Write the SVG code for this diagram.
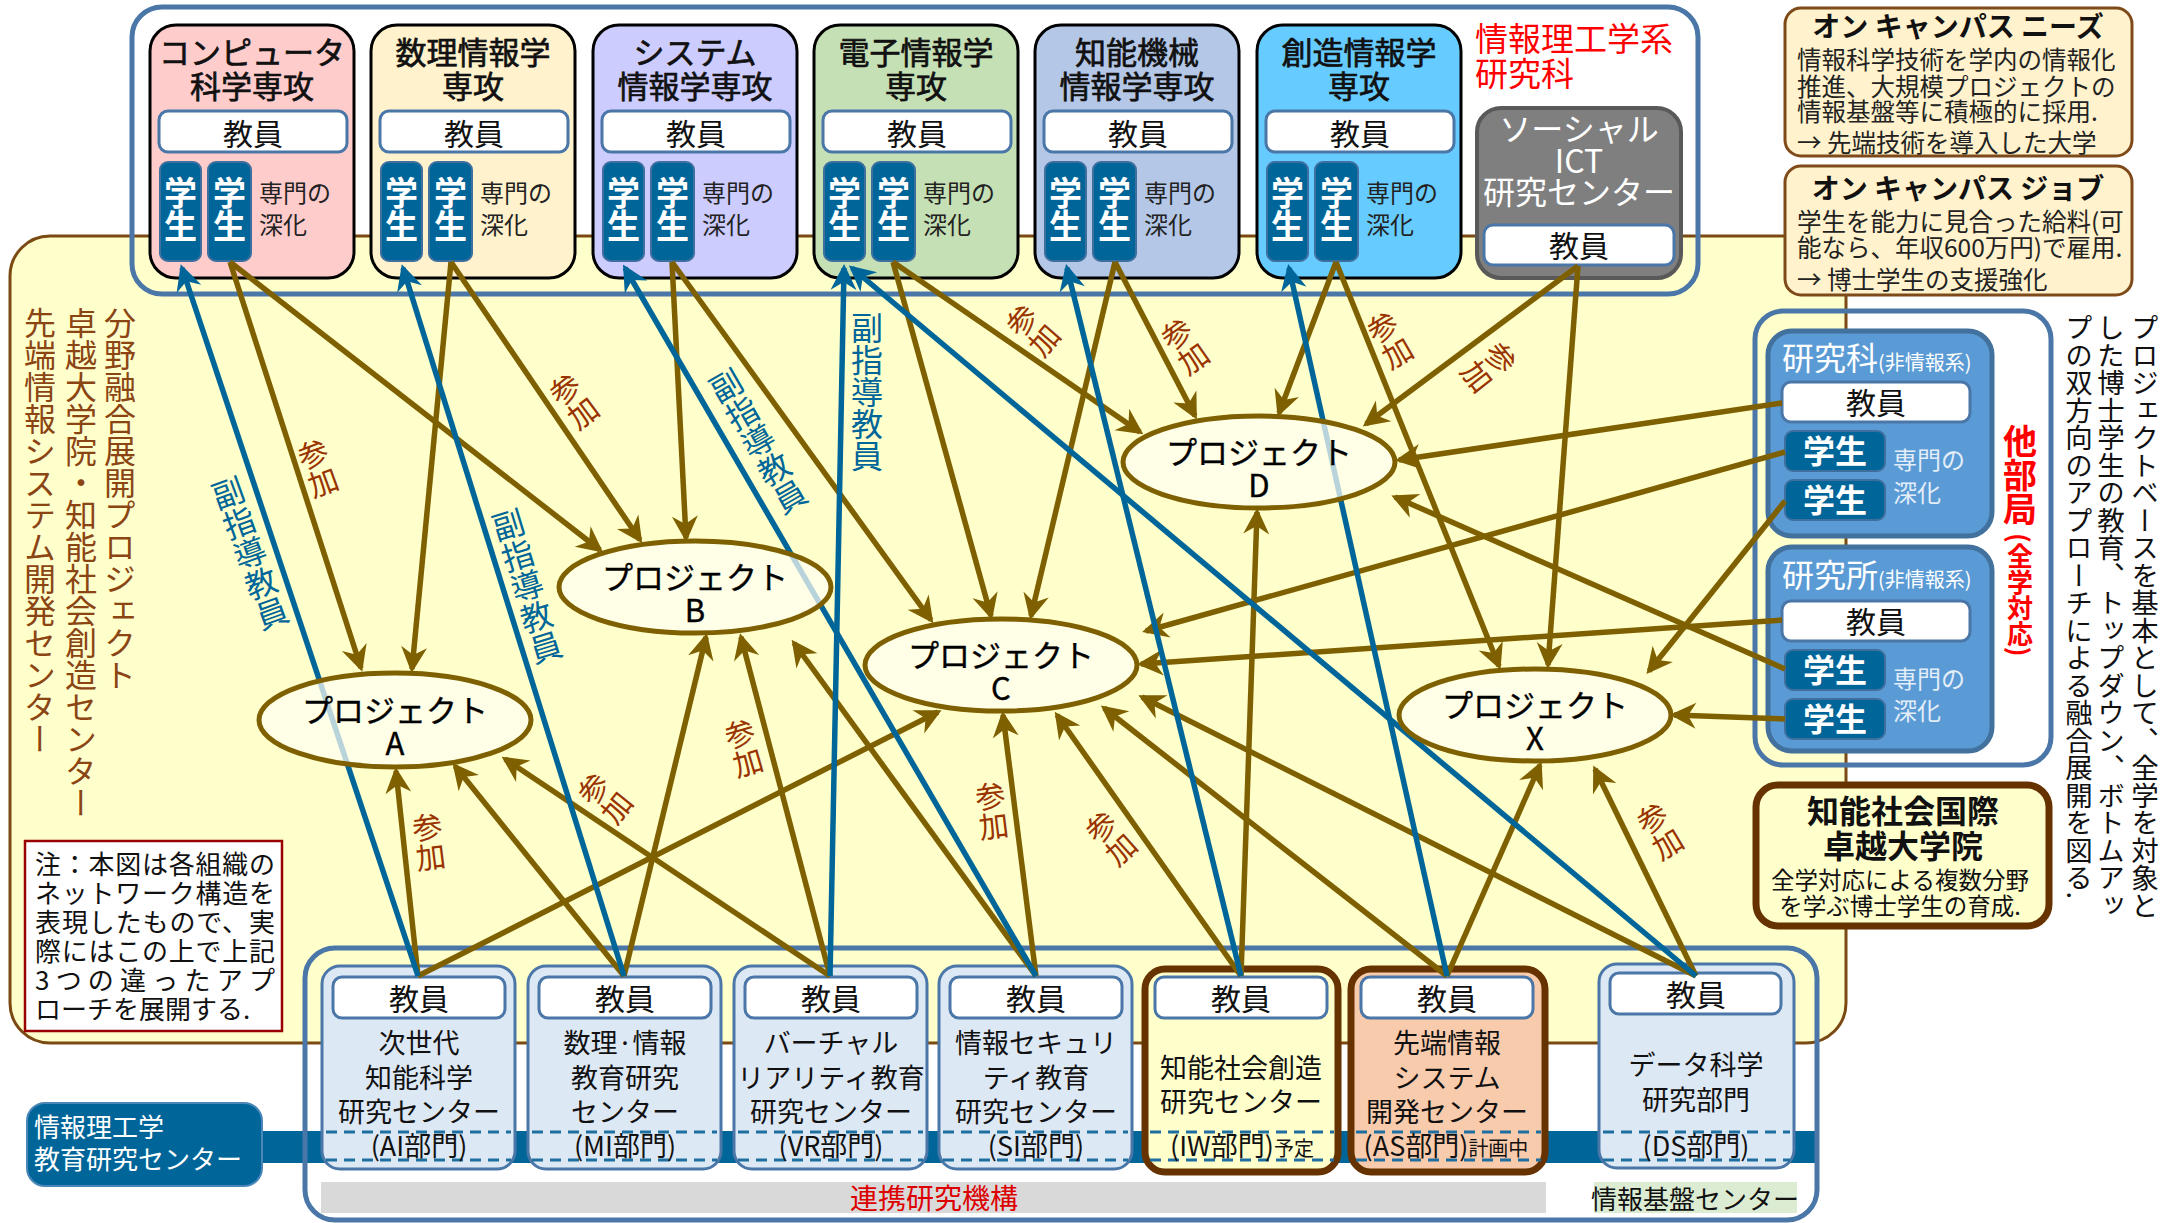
<svg xmlns="http://www.w3.org/2000/svg" width="2172" height="1223" viewBox="0 0 2172 1223">
<defs>
<style>
text{font-family:"Noto Sans CJK JP","Noto Sans",sans-serif;}
.dept{stroke:#000;stroke-width:3}
.kyoin{fill:#fff;stroke:#4a76a8;stroke-width:3}
.kt{font-size:30px;fill:#111;text-anchor:middle}
.title{font-size:31px;fill:#111;text-anchor:middle;stroke:#111;stroke-width:0.7px}
.stu{fill:#006699;stroke:#3f6f9f;stroke-width:2}
.st{font-size:33px;fill:#fff;text-anchor:middle;font-weight:bold}
.sm{font-size:24px;fill:#222}
.br{stroke:#7f6000;stroke-width:5.5;fill:none;marker-end:url(#ab)}
.bl{stroke:#006699;stroke-width:5.5;fill:none;marker-end:url(#au)}
.san{font-size:30px;fill:#993300;writing-mode:vertical-rl;text-anchor:middle}
.fuku{font-size:32px;fill:#006699;writing-mode:vertical-rl;text-anchor:middle}
.vt{writing-mode:vertical-rl}
.proj ellipse{fill:#fffff2;fill-opacity:0.72;stroke:#7f6000;stroke-width:5}
.pt{font-size:31px;fill:#000;text-anchor:middle;stroke:#000;stroke-width:0.4px}
.bbox{fill:#dde8f5;stroke:#4a76a8;stroke-width:3}
.tbox{stroke:#663300;stroke-width:7}
.bt{font-size:27px;fill:#111;text-anchor:middle}
.dash{stroke:#1f6ea0;stroke-width:3;stroke-dasharray:11 7}
.frame{fill:none;stroke:#4a76a8;stroke-width:5}
.rbox{fill:#5b9bd5;stroke:#41719c;stroke-width:5}
.rst{font-size:32px;fill:#fff;text-anchor:middle;font-weight:bold}
.rsm{font-size:24px;fill:#e4eef9}
.oc{fill:#fff2cc;stroke:#7f4a1a;stroke-width:3}
.oct{font-size:28px;font-weight:bold;fill:#111;text-anchor:middle}
.ocb{font-size:24.5px;fill:#222}
.note{font-size:26px;fill:#111}
</style>
<marker id="ab" viewBox="-24 -15 30 30" markerWidth="30" markerHeight="30" refX="0" refY="0" orient="auto" markerUnits="userSpaceOnUse"><path d="M4,0 L-22,-13 L-14,0 L-22,13 Z" fill="#7f6000"/></marker>
<marker id="au" viewBox="-24 -15 30 30" markerWidth="30" markerHeight="30" refX="0" refY="0" orient="auto" markerUnits="userSpaceOnUse"><path d="M4,0 L-22,-13 L-14,0 L-22,13 Z" fill="#006699"/></marker>
</defs>
<rect x="0" y="0" width="2172" height="1223" fill="#fff"/>

<g id="fusion-area">
<rect x="10" y="236" width="1836" height="807" rx="40" fill="#ffffcc" stroke="#7a4a12" stroke-width="3"/>
<text class="vt" x="120" y="307" font-size="32" fill="#8b4513">分野融合展開プロジェクト</text>
<text class="vt" x="81" y="307" font-size="32" fill="#8b4513">卓越大学院・知能社会創造センター</text>
<text class="vt" x="40" y="307" font-size="32" fill="#8b4513">先端情報システム開発センター</text>
</g>

<g id="note">
<rect x="25" y="841" width="257" height="190" fill="#fff" stroke="#990000" stroke-width="2.5"/>
<text class="note" x="35" y="874" textLength="240" lengthAdjust="spacing">注：本図は各組織の</text>
<text class="note" x="35" y="903" textLength="240" lengthAdjust="spacing">ネットワーク構造を</text>
<text class="note" x="35" y="932" textLength="240" lengthAdjust="spacing">表現したもので、実</text>
<text class="note" x="35" y="961" textLength="240" lengthAdjust="spacing">際にはこの上で上記</text>
<text class="note" x="35" y="990" textLength="240" lengthAdjust="spacing">3つの違ったアプ</text>
<text class="note" x="35" y="1019">ローチを展開する.</text>
</g>

<g id="edu-center">
<rect x="262" y="1131" width="1553" height="32" fill="#006699"/>
<rect x="27" y="1103" width="235" height="83" rx="18" fill="#006699" stroke="#4a86b8" stroke-width="2"/>
<text x="34" y="1137" font-size="26" fill="#fff">情報理工学</text>
<text x="34" y="1169" font-size="26" fill="#fff">教育研究センター</text>
</g>

<g id="renkei">
<rect x="321" y="1182" width="1225" height="31" fill="#d9d9d9"/>
<text x="934" y="1209" font-size="28" fill="#dd0000" text-anchor="middle">連携研究機構</text>
</g>
<g id="kiban">
<rect x="1594" y="1182" width="203" height="31" fill="#dcecd2"/>
<text x="1695" y="1209" font-size="26" fill="#111" text-anchor="middle">情報基盤センター</text>
</g>

<g id="grad-school-frame">
<rect class="frame" x="132" y="7" width="1566" height="287" rx="30"/>
<text x="1475" y="51" font-size="33" fill="#ff0000">情報理工学系</text>
<text x="1475" y="86" font-size="33" fill="#ff0000">研究科</text>
</g>
<rect id="bottom-frame" class="frame" x="305" y="948" width="1512" height="272" rx="30"/>

<g id="dept-cs">
<rect x="150" y="25" width="204" height="253" rx="26" class="dept" fill="#ffcccc"/>
<text class="title" x="252" y="64">コンピュータ</text>
<text class="title" x="252" y="98">科学専攻</text>
<rect class="kyoin" x="159" y="111" width="188" height="41" rx="9"/>
<text class="kt" x="253" y="145">教員</text>
<rect class="stu" x="160" y="162" width="41" height="99" rx="8"/>
<text class="st" x="180.5" y="205">学</text><text class="st" x="180.5" y="238">生</text>
<rect class="stu" x="208" y="162" width="43" height="99" rx="8"/>
<text class="st" x="229.5" y="205">学</text><text class="st" x="229.5" y="238">生</text>
<text class="sm" x="259" y="202">専門の</text><text class="sm" x="259" y="234">深化</text>
</g>
<g id="dept-math">
<rect x="371" y="25" width="204" height="253" rx="26" class="dept" fill="#fff2cc"/>
<text class="title" x="473" y="64">数理情報学</text>
<text class="title" x="473" y="98">専攻</text>
<rect class="kyoin" x="380" y="111" width="188" height="41" rx="9"/>
<text class="kt" x="474" y="145">教員</text>
<rect class="stu" x="381" y="162" width="41" height="99" rx="8"/>
<text class="st" x="401.5" y="205">学</text><text class="st" x="401.5" y="238">生</text>
<rect class="stu" x="429" y="162" width="43" height="99" rx="8"/>
<text class="st" x="450.5" y="205">学</text><text class="st" x="450.5" y="238">生</text>
<text class="sm" x="480" y="202">専門の</text><text class="sm" x="480" y="234">深化</text>
</g>
<g id="dept-sys">
<rect x="593" y="25" width="204" height="253" rx="26" class="dept" fill="#ccccff"/>
<text class="title" x="695" y="64">システム</text>
<text class="title" x="695" y="98">情報学専攻</text>
<rect class="kyoin" x="602" y="111" width="188" height="41" rx="9"/>
<text class="kt" x="696" y="145">教員</text>
<rect class="stu" x="603" y="162" width="41" height="99" rx="8"/>
<text class="st" x="623.5" y="205">学</text><text class="st" x="623.5" y="238">生</text>
<rect class="stu" x="651" y="162" width="43" height="99" rx="8"/>
<text class="st" x="672.5" y="205">学</text><text class="st" x="672.5" y="238">生</text>
<text class="sm" x="702" y="202">専門の</text><text class="sm" x="702" y="234">深化</text>
</g>
<g id="dept-ee">
<rect x="814" y="25" width="204" height="253" rx="26" class="dept" fill="#c5e0b4"/>
<text class="title" x="916" y="64">電子情報学</text>
<text class="title" x="916" y="98">専攻</text>
<rect class="kyoin" x="823" y="111" width="188" height="41" rx="9"/>
<text class="kt" x="917" y="145">教員</text>
<rect class="stu" x="824" y="162" width="41" height="99" rx="8"/>
<text class="st" x="844.5" y="205">学</text><text class="st" x="844.5" y="238">生</text>
<rect class="stu" x="872" y="162" width="43" height="99" rx="8"/>
<text class="st" x="893.5" y="205">学</text><text class="st" x="893.5" y="238">生</text>
<text class="sm" x="923" y="202">専門の</text><text class="sm" x="923" y="234">深化</text>
</g>
<g id="dept-mech">
<rect x="1035" y="25" width="204" height="253" rx="26" class="dept" fill="#b4c7e7"/>
<text class="title" x="1137" y="64">知能機械</text>
<text class="title" x="1137" y="98">情報学専攻</text>
<rect class="kyoin" x="1044" y="111" width="188" height="41" rx="9"/>
<text class="kt" x="1138" y="145">教員</text>
<rect class="stu" x="1045" y="162" width="41" height="99" rx="8"/>
<text class="st" x="1065.5" y="205">学</text><text class="st" x="1065.5" y="238">生</text>
<rect class="stu" x="1093" y="162" width="43" height="99" rx="8"/>
<text class="st" x="1114.5" y="205">学</text><text class="st" x="1114.5" y="238">生</text>
<text class="sm" x="1144" y="202">専門の</text><text class="sm" x="1144" y="234">深化</text>
</g>
<g id="dept-create">
<rect x="1257" y="25" width="204" height="253" rx="26" class="dept" fill="#66ccff"/>
<text class="title" x="1359" y="64">創造情報学</text>
<text class="title" x="1359" y="98">専攻</text>
<rect class="kyoin" x="1266" y="111" width="188" height="41" rx="9"/>
<text class="kt" x="1360" y="145">教員</text>
<rect class="stu" x="1267" y="162" width="41" height="99" rx="8"/>
<text class="st" x="1287.5" y="205">学</text><text class="st" x="1287.5" y="238">生</text>
<rect class="stu" x="1315" y="162" width="43" height="99" rx="8"/>
<text class="st" x="1336.5" y="205">学</text><text class="st" x="1336.5" y="238">生</text>
<text class="sm" x="1366" y="202">専門の</text><text class="sm" x="1366" y="234">深化</text>
</g>
<g id="social-ict">
<rect x="1477" y="108" width="204" height="170" rx="24" fill="#7f7f7f" stroke="#595959" stroke-width="4"/>
<text x="1579" y="141" font-size="32" fill="#fff" text-anchor="middle">ソーシャル</text>
<text x="1579" y="173" font-size="32" fill="#fff" text-anchor="middle">ICT</text>
<text x="1579" y="204" font-size="32" fill="#fff" text-anchor="middle">研究センター</text>
<rect class="kyoin" x="1484" y="225" width="190" height="40" rx="9"/>
<text class="kt" x="1579" y="257">教員</text>
</g>

<g id="on-campus-needs">
<rect class="oc" x="1785" y="8" width="347" height="148" rx="16"/>
<text class="oct" x="1958" y="37">オン キャンパス ニーズ</text>
<text class="ocb" x="1797" y="69">情報科学技術を学内の情報化</text>
<text class="ocb" x="1797" y="96">推進、大規模プロジェクトの</text>
<text class="ocb" x="1797" y="121">情報基盤等に積極的に採用.</text>
<text class="ocb" x="1797" y="152">→ 先端技術を導入した大学</text>
</g>
<g id="on-campus-job">
<rect class="oc" x="1785" y="166" width="347" height="129" rx="16"/>
<text class="oct" x="1958" y="199">オン キャンパス ジョブ</text>
<text class="ocb" x="1797" y="231">学生を能力に見合った給料(可</text>
<text class="ocb" x="1797" y="257">能なら、年収600万円)で雇用.</text>
<text class="ocb" x="1797" y="289">→ 博士学生の支援強化</text>
</g>

<g id="other-depts">
<rect class="frame" x="1755" y="311" width="296" height="454" rx="28"/>
<text class="vt" x="2020" y="424" font-size="34" font-weight="bold" fill="#ff0000">他部局</text>
<text class="vt" x="2020" y="533" font-size="26" font-weight="bold" fill="#ff0000">(全学対応)</text>
</g>
<g id="kenkyuka">
<rect class="rbox" x="1768" y="331" width="224" height="205" rx="24"/>
<text x="1782" y="370" font-size="32" fill="#fff">研究科<tspan font-size="20">(非情報系)</tspan></text>
<rect class="kyoin" x="1782" y="382" width="188" height="40" rx="9"/>
<text class="kt" x="1876" y="414">教員</text>
<rect class="stu" x="1785" y="431" width="100" height="40" rx="8"/>
<text class="rst" x="1835" y="463">学生</text>
<rect class="stu" x="1785" y="480" width="100" height="40" rx="8"/>
<text class="rst" x="1835" y="512">学生</text>
<text class="rsm" x="1893" y="469">専門の</text><text class="rsm" x="1893" y="502">深化</text>
</g>
<g id="kenkyusho">
<rect class="rbox" x="1768" y="547" width="224" height="204" rx="24"/>
<text x="1782" y="587" font-size="32" fill="#fff">研究所<tspan font-size="20">(非情報系)</tspan></text>
<rect class="kyoin" x="1782" y="601" width="188" height="40" rx="9"/>
<text class="kt" x="1876" y="633">教員</text>
<rect class="stu" x="1785" y="650" width="100" height="40" rx="8"/>
<text class="rst" x="1835" y="682">学生</text>
<rect class="stu" x="1785" y="699" width="100" height="40" rx="8"/>
<text class="rst" x="1835" y="731">学生</text>
<text class="rsm" x="1893" y="688">専門の</text><text class="rsm" x="1893" y="720">深化</text>
</g>
<g id="intl-grad">
<rect x="1756" y="785" width="293" height="141" rx="22" fill="#ffffcc" stroke="#663300" stroke-width="7"/>
<text x="1903" y="823" font-size="32" font-weight="bold" fill="#111" text-anchor="middle">知能社会国際</text>
<text x="1903" y="858" font-size="32" font-weight="bold" fill="#111" text-anchor="middle">卓越大学院</text>
<text x="1900" y="889" font-size="23.5" fill="#111" text-anchor="middle">全学対応による複数分野</text>
<text x="1900" y="915" font-size="23.5" fill="#111" text-anchor="middle">を学ぶ博士学生の育成.</text>
</g>
<g id="description">
<text class="vt" x="2145" y="314" font-size="27.5" fill="#111">プロジェクトベースを基本として、全学を対象と</text>
<text class="vt" x="2111" y="314" font-size="27.5" fill="#111">した博士学生の教育、トップダウン、ボトムアッ</text>
<text class="vt" x="2079" y="314" font-size="27.5" fill="#111">プの双方向のアプローチによる融合展開を図る.</text>
</g>

<g id="center-ai">
<rect class="bbox" x="322" y="966" width="193" height="203" rx="18"/>
<rect class="kyoin" x="333" y="977" width="172" height="41" rx="9"/>
<text class="kt" x="419" y="1010">教員</text>
<text class="bt" x="419" y="1053">次世代</text><text class="bt" x="419" y="1088">知能科学</text><text class="bt" x="419" y="1122">研究センター</text>
<line class="dash" x1="326" y1="1132" x2="511" y2="1132"/><line class="dash" x1="326" y1="1160" x2="511" y2="1160"/>
<text class="bt" x="419" y="1156">(AI部門)</text>
</g>
<g id="center-mi">
<rect class="bbox" x="528" y="966" width="193" height="203" rx="18"/>
<rect class="kyoin" x="539" y="977" width="172" height="41" rx="9"/>
<text class="kt" x="625" y="1010">教員</text>
<text class="bt" x="625" y="1053">数理·情報</text><text class="bt" x="625" y="1088">教育研究</text><text class="bt" x="625" y="1122">センター</text>
<line class="dash" x1="532" y1="1132" x2="717" y2="1132"/><line class="dash" x1="532" y1="1160" x2="717" y2="1160"/>
<text class="bt" x="625" y="1156">(MI部門)</text>
</g>
<g id="center-vr">
<rect class="bbox" x="734" y="966" width="193" height="203" rx="18"/>
<rect class="kyoin" x="745" y="977" width="172" height="41" rx="9"/>
<text class="kt" x="831" y="1010">教員</text>
<text class="bt" x="831" y="1053">バーチャル</text><text class="bt" x="831" y="1088">リアリティ教育</text><text class="bt" x="831" y="1122">研究センター</text>
<line class="dash" x1="738" y1="1132" x2="923" y2="1132"/><line class="dash" x1="738" y1="1160" x2="923" y2="1160"/>
<text class="bt" x="831" y="1156">(VR部門)</text>
</g>
<g id="center-si">
<rect class="bbox" x="939" y="966" width="193" height="203" rx="18"/>
<rect class="kyoin" x="950" y="977" width="172" height="41" rx="9"/>
<text class="kt" x="1036" y="1010">教員</text>
<text class="bt" x="1036" y="1053">情報セキュリ</text><text class="bt" x="1036" y="1088">ティ教育</text><text class="bt" x="1036" y="1122">研究センター</text>
<line class="dash" x1="943" y1="1132" x2="1128" y2="1132"/><line class="dash" x1="943" y1="1160" x2="1128" y2="1160"/>
<text class="bt" x="1036" y="1156">(SI部門)</text>
</g>
<g id="center-iw">
<rect class="tbox" x="1145" y="969" width="193" height="203" rx="20" fill="#ffffcc"/>
<rect class="kyoin" x="1155" y="977" width="172" height="41" rx="9"/>
<text class="kt" x="1241" y="1010">教員</text>
<text class="bt" x="1241" y="1078">知能社会創造</text><text class="bt" x="1241" y="1112">研究センター</text>
<line class="dash" x1="1150" y1="1132" x2="1334" y2="1132"/><line class="dash" x1="1150" y1="1160" x2="1334" y2="1160"/>
<text class="bt" x="1242" y="1156">(IW部門)<tspan font-size="20">予定</tspan></text>
</g>
<g id="center-as">
<rect class="tbox" x="1351" y="969" width="194" height="203" rx="20" fill="#f8cbad"/>
<rect class="kyoin" x="1361" y="977" width="172" height="41" rx="9"/>
<text class="kt" x="1447" y="1010">教員</text>
<text class="bt" x="1447" y="1053">先端情報</text><text class="bt" x="1447" y="1088">システム</text><text class="bt" x="1447" y="1122">開発センター</text>
<line class="dash" x1="1356" y1="1132" x2="1541" y2="1132"/><line class="dash" x1="1356" y1="1160" x2="1541" y2="1160"/>
<text class="bt" x="1446" y="1156">(AS部門)<tspan font-size="20">計画中</tspan></text>
</g>
<g id="dept-ds">
<rect class="bbox" x="1599" y="964" width="195" height="204" rx="18"/>
<rect class="kyoin" x="1610" y="973" width="171" height="41" rx="9"/>
<text class="kt" x="1696" y="1006">教員</text>
<text class="bt" x="1696" y="1075">データ科学</text><text class="bt" x="1696" y="1110">研究部門</text>
<line class="dash" x1="1603" y1="1132" x2="1790" y2="1132"/><line class="dash" x1="1603" y1="1160" x2="1790" y2="1160"/>
<text class="bt" x="1696" y="1156">(DS部門)</text>
</g>

<g id="connectors">
<path class="br" d="M230,262 L361,668"/>
<path class="br" d="M230,262 L600,550"/>
<path class="br" d="M451,262 L412,669"/>
<path class="br" d="M451,262 L640,540"/>
<path class="br" d="M672,262 L686,538"/>
<path class="br" d="M672,262 L931,620"/>
<path class="br" d="M893,262 L991,616"/>
<path class="br" d="M893,262 L1140,432"/>
<path class="br" d="M1115,262 L1031,616"/>
<path class="br" d="M1115,262 L1195,416"/>
<path class="br" d="M1336,262 L1279,413"/>
<path class="br" d="M1336,262 L1499,666"/>
<path class="br" d="M1578,266 L1366,424"/>
<path class="br" d="M1578,266 L1548,665"/>
<path class="br" d="M1782,403 L1399,460"/>
<path class="br" d="M1785,452 L1146,631"/>
<path class="br" d="M1785,501 L1649,671"/>
<path class="br" d="M1782,620 L1141,664"/>
<path class="br" d="M1785,669 L1395,497"/>
<path class="br" d="M1785,719 L1674,715"/>
<path class="br" d="M418,976 L396,771"/>
<path class="br" d="M418,976 L938,712"/>
<path class="br" d="M624,976 L455,766"/>
<path class="br" d="M624,976 L706,637"/>
<path class="br" d="M830,976 L505,759"/>
<path class="br" d="M830,976 L741,637"/>
<path class="br" d="M1036,976 L794,643"/>
<path class="br" d="M1036,976 L1003,715"/>
<path class="br" d="M1241,976 L1057,715"/>
<path class="br" d="M1241,976 L1257,512"/>
<path class="br" d="M1447,976 L1104,708"/>
<path class="br" d="M1447,976 L1540,765"/>
<path class="br" d="M1696,976 L1142,697"/>
<path class="br" d="M1696,976 L1595,769"/>
<path class="bl" d="M418,976 L182,268"/>
<path class="bl" d="M624,976 L403,268"/>
<path class="bl" d="M1036,976 L625,268"/>
<path class="bl" d="M830,976 L844,268"/>
<path class="bl" d="M1696,976 L852,268"/>
<path class="bl" d="M1241,976 L1067,268"/>
<path class="bl" d="M1447,976 L1289,268"/>
<text class="san" transform="translate(318,468) rotate(-20)">参加</text>
<text class="san" transform="translate(574,401) rotate(-37)">参加</text>
<text class="san" transform="translate(1033,330) rotate(-49)">参加</text>
<text class="san" transform="translate(1185,346) rotate(-35)">参加</text>
<text class="san" transform="translate(1390,340) rotate(-30)">参加</text>
<text class="san" transform="translate(1489,367) rotate(52)">参加</text>
<text class="san" transform="translate(429,842) rotate(-7)">参加</text>
<text class="san" transform="translate(605,798) rotate(-51)">参加</text>
<text class="san" transform="translate(744,748) rotate(-16)">参加</text>
<text class="san" transform="translate(992,811) rotate(-7)">参加</text>
<text class="san" transform="translate(1111,838) rotate(-42)">参加</text>
<text class="san" transform="translate(1660,831) rotate(-31)">参加</text>
<text class="fuku" transform="translate(250,553) rotate(-20)">副指導教員</text>
<text class="fuku" transform="translate(527,586) rotate(-17)">副指導教員</text>
<text class="fuku" transform="translate(758,441) rotate(-30)">副指導教員</text>
<text class="fuku" transform="translate(867,392)">副指導教員</text>
</g>

<g id="proj-a" class="proj"><ellipse cx="395" cy="720" rx="136" ry="47"/><text class="pt" x="395" y="722">プロジェクト</text><text class="pt" x="395" y="755">A</text></g>
<g id="proj-b" class="proj"><ellipse cx="695" cy="587" rx="136" ry="46"/><text class="pt" x="695" y="589">プロジェクト</text><text class="pt" x="695" y="622">B</text></g>
<g id="proj-c" class="proj"><ellipse cx="1001" cy="665" rx="136" ry="46"/><text class="pt" x="1001" y="667">プロジェクト</text><text class="pt" x="1001" y="700">C</text></g>
<g id="proj-d" class="proj"><ellipse cx="1259" cy="462" rx="136" ry="46"/><text class="pt" x="1259" y="464">プロジェクト</text><text class="pt" x="1259" y="497">D</text></g>
<g id="proj-x" class="proj"><ellipse cx="1535" cy="715" rx="136" ry="46"/><text class="pt" x="1535" y="717">プロジェクト</text><text class="pt" x="1535" y="750">X</text></g>
</svg>
